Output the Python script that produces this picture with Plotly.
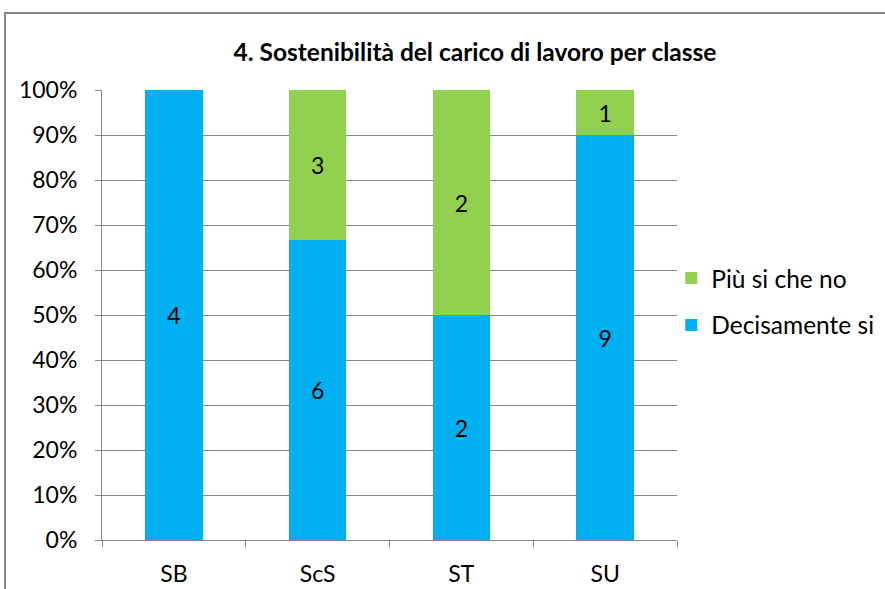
import plotly.graph_objects as go

categories = ["SB", "ScS", "ST", "SU"]
decisamente_si = [4, 6, 2, 9]
piu_si_che_no = [0, 3, 2, 1]
y_ticks = [0, 0.1, 0.2, 0.3, 0.4, 0.5, 0.6, 0.7, 0.8, 0.9, 1.0]
y_tick_labels = ["0%", "10%", "20%", "30%", "40%", "50%", "60%", "70%", "80%", "90%", "100%"]

totals = [a + b for a, b in zip(decisamente_si, piu_si_che_no)]
pct_d = [a / t for a, t in zip(decisamente_si, totals)]
pct_p = [b / t for b, t in zip(piu_si_che_no, totals)]

FONT = "Lato"
FS = 23
fig = go.Figure()
fig.add_trace(go.Bar(
    x=categories, y=pct_d, name="Decisamente si",
    marker=dict(color="#00B0F0", line=dict(width=0)),
    text=[str(v) if v else "" for v in decisamente_si],
    textposition="inside", insidetextanchor="middle",
    textfont=dict(color="black", size=FS, family=FONT),
    legendgroup="d", legendrank=2, hoverinfo="skip",
))
fig.add_trace(go.Bar(
    x=categories, y=pct_p, name="Più si che no",
    marker=dict(color="#92D050", line=dict(width=0)),
    text=[str(v) if v else "" for v in piu_si_che_no],
    textposition="inside", insidetextanchor="middle",
    textfont=dict(color="black", size=FS, family=FONT),
    legendgroup="p", legendrank=1, hoverinfo="skip",
))

fig.update_layout(
    barmode="stack",
    bargap=0.6,
    width=885, height=589,
    margin=dict(l=102, r=208, t=90, b=49, autoexpand=False),
    paper_bgcolor="white", plot_bgcolor="white",
    font=dict(family=FONT, size=FS, color="black"),
    title=dict(text="<b>4. Sostenibilità del carico di lavoro per classe</b>",
               x=475 / 885, xanchor="center", y=1 - 52 / 589, yanchor="middle",
               font=dict(size=24.5, family=FONT, color="black")),
    showlegend=True,
    legend=dict(x=0.99, xanchor="left", y=0.632, yanchor="top",
                traceorder="grouped", tracegroupgap=12,
                font=dict(size=24.5, family=FONT, color="black"),
                bgcolor="rgba(0,0,0,0)"),
)
fig.update_xaxes(
    type="category", tickson="boundaries", ticks="outside", ticklen=6,
    tickcolor="#868686", showline=True, linecolor="#868686", linewidth=1,
    showgrid=False, tickfont=dict(size=FS, family=FONT), ticklabelstandoff=13,
)
fig.update_yaxes(
    range=[0, 1], tickvals=y_ticks, ticktext=y_tick_labels,
    ticks="outside", ticklen=6, tickcolor="#868686",
    showline=True, linecolor="#868686", linewidth=1,
    showgrid=True, gridcolor="#868686", gridwidth=1,
    tickfont=dict(size=FS, family=FONT), zeroline=False, ticklabelstandoff=13,
)
# outer chart frame
fig.add_shape(type="rect", xref="paper", yref="paper",
              x0=-97 / 575, x1=890 / 575 - 102 / 575, y0=-60 / 450, y1=(540 - 13) / 450,
              line=dict(color="#868686", width=2), fillcolor="rgba(0,0,0,0)", layer="below")
fig.write_html("out.html", config={"displayModeBar": False},
               post_script="document.body.style.margin='0';document.body.style.overflow='hidden';")
